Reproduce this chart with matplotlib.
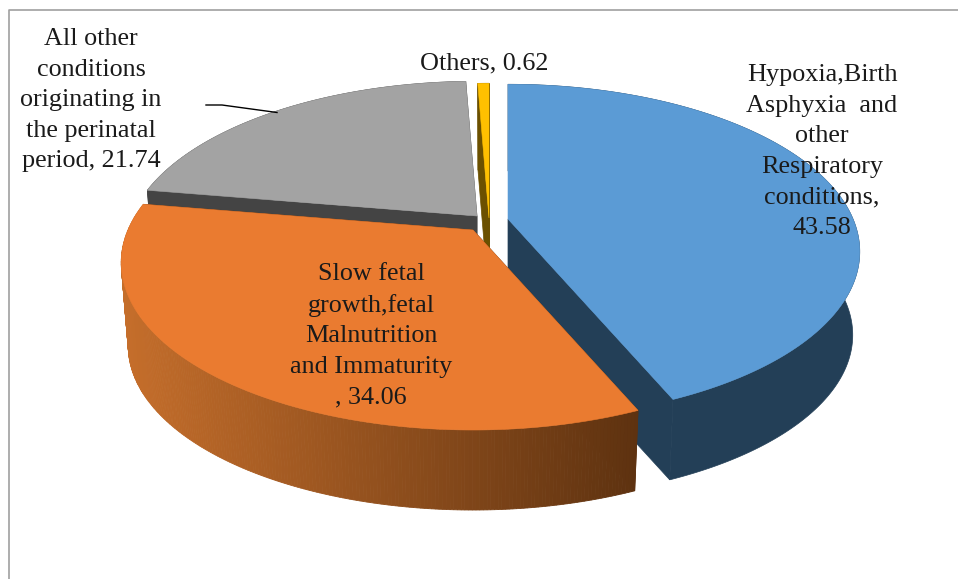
import numpy as np
import matplotlib
matplotlib.use('Agg')
import matplotlib.pyplot as plt
from matplotlib.patches import Polygon
from matplotlib.colors import to_rgb

labels = ['Hypoxia,Birth\nAsphyxia  and\nother\nRespiratory\nconditions,\n',
          'Slow fetal\ngrowth,fetal\nMalnutrition\nand Immaturity\n, ',
          'All other\nconditions\noriginating in\nthe perinatal\nperiod, ',
          'Others, ']
values = [43.58, 34.06, 21.74, 0.62]
top_colors = ['#5B9BD5', '#EA7B30', '#A3A3A3', '#FFC000']
side_colors = ['#233F57', '#5E3210', '#444444', '#6B5000']

# slice apex on screen (exploded pie), label centres
apex = [(508, 219), (473, 230), (477, 216), (489, 218)]
label_pos = [(822, 151.5), (371, 335.5), (91, 100), (484, 63)]

RX, RY, K = 345.0, 161.0, 0.195  # ellipse radii and perspective
DEPTH, SHRINK = 84.0, 0.98       # height of the pie, lower rim scale


def rim(center, theta, lower=False):
    # theta in degrees, clockwise from the top
    t = np.radians(theta)
    u, v = np.sin(t), -np.cos(t)
    s = 1.0 / (1.0 - K * v)
    x, y = RX * u * s, RY * v * s
    if lower:
        return center[0] + SHRINK * x, center[1] + SHRINK * y + DEPTH
    return center[0] + x, center[1] + y


fig = plt.figure(figsize=(9.58, 5.79), dpi=100)
ax = fig.add_axes([0, 0, 1, 1])
ax.set_xlim(0, 958)
ax.set_ylim(579, 0)
ax.axis('off')

# chart frame
ax.plot([9, 9, 958], [579, 10, 10], color='#A0A0A0', lw=1.2)

angles = 360.0 * np.cumsum([0] + values) / sum(values)
spans = {i: (angles[i], angles[i + 1]) for i in range(len(values))}

# back slices first, orange goes on top of the others
for i in [2, 3, 0, 1]:
    a0, a1 = spans[i]
    c = apex[i]
    th = np.linspace(a0, a1, max(int(a1 - a0) * 2, 4))

    # cut faces
    for a in (a0, a1):
        p = [c, rim(c, a), rim(c, a, True), (c[0], c[1] + DEPTH)]
        ax.add_patch(Polygon(p, closed=True, fc=side_colors[i], ec=side_colors[i], lw=0.5))

    # outer wall
    if i == 1:
        # orange wall has a dark gradient towards the right
        left, right = np.array(to_rgb('#C56E2B')), np.array(to_rgb(side_colors[1]))
        for t0, t1 in zip(th[:-1], th[1:]):
            x = rim(c, 0.5 * (t0 + t1))[0]
            f = np.clip((x - 120) / (638 - 120), 0, 1)
            col = left + (right - left) * f
            p = [rim(c, t0), rim(c, t1), rim(c, t1, True), rim(c, t0, True)]
            ax.add_patch(Polygon(p, closed=True, fc=col, ec=col, lw=0.6))
    else:
        p = [rim(c, t) for t in th] + [rim(c, t, True) for t in th[::-1]]
        ax.add_patch(Polygon(p, closed=True, fc=side_colors[i], ec=side_colors[i], lw=0.5))

    # top face
    p = [c] + [rim(c, t) for t in th]
    ax.add_patch(Polygon(p, closed=True, fc=top_colors[i], ec=top_colors[i], lw=0.4))

# leader line of the grey slice
ax.plot([206, 222, 277], [105, 105, 112.5], color='black', lw=1.0)

for lab, val, pos in zip(labels, values, label_pos):
    ax.text(pos[0], pos[1], lab + '%.2f' % val, ha='center', va='center', ma='center',
            family='Liberation Serif', fontsize=18.8, color='#1a1a1a', linespacing=1.5)

fig.savefig('out.png', dpi=100)
